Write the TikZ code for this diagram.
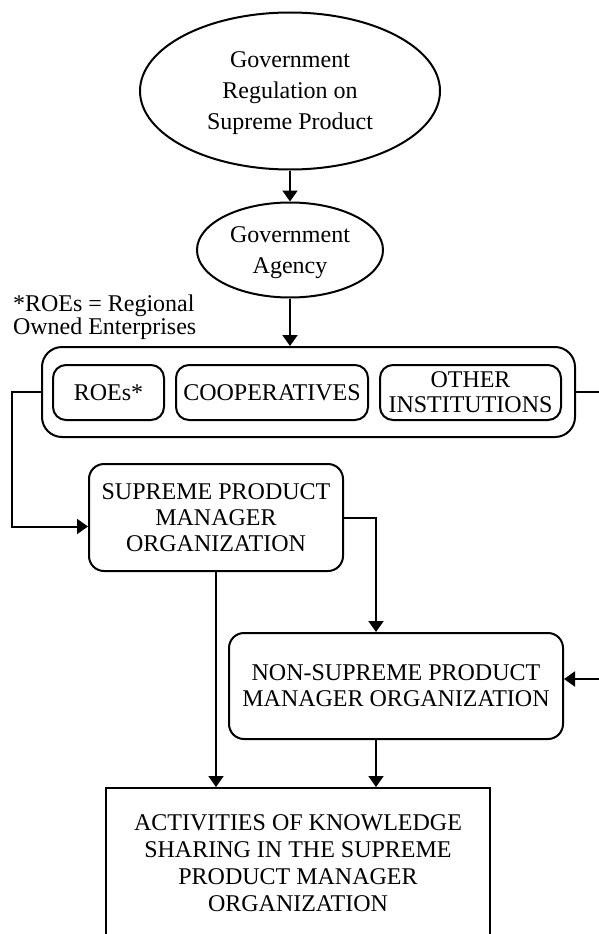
\documentclass[tikz,border=0pt]{standalone}
\usepackage{fontspec}
\setmainfont{Liberation Serif}
\usetikzlibrary{shapes.geometric,arrows.meta}

\begin{document}
\begin{tikzpicture}[
  x=1pt, y=-1pt,
  >={Triangle[length=11pt,width=15pt]},
  line width=2pt,
  oval/.style={draw,ellipse,align=center,inner sep=0pt,text depth=0pt,font=\fontsize{24}{31}\selectfont},
  box/.style={draw,rounded corners=15pt,align=center,inner sep=0pt,text depth=0pt,font=\fontsize{24}{26}\selectfont},
  unit/.style={draw,rounded corners=13pt,align=center,inner sep=0pt,minimum height=55pt,font=\fontsize{24}{25}\selectfont},
  arrow/.style={->}
]
\useasboundingbox (0,0) rectangle (598,934);
\coordinate (edge) at (600,0);

% regulation and agency
\node[oval,minimum width=300pt,minimum height=157pt] (reg) at (290,91) {Government\\Regulation on\\Supreme Product};
\node[oval,minimum width=186pt,minimum height=95pt] (agency) at (290,250) {Government\\Agency};
\node[align=left,anchor=north west,inner sep=0pt,font=\fontsize{24}{21}\selectfont] (note) at (12,294) {*ROEs = Regional\\Owned Enterprises};

% the three kinds of institutions
\node[draw,rounded corners=20pt,minimum width=533pt,minimum height=90pt] (group) at (308.5,392) {};
\node[unit,minimum width=111pt] (roes) at (108.5,392.5) {ROEs*};
\node[unit,minimum width=192pt] (coop) at (272,392.5) {COOPERATIVES};
\node[unit,minimum width=181pt] (other) at (470.5,392.5) {OTHER\\INSTITUTIONS};

% managers
\node[box,minimum width=254pt,minimum height=107pt] (spm) at (216,517.5) {SUPREME PRODUCT\\MANAGER\\ORGANIZATION};
\node[box,minimum width=334pt,minimum height=106pt] (nspm) at (396,686) {NON-SUPREME PRODUCT\\MANAGER ORGANIZATION};
\node[draw,align=center,anchor=north,inner xsep=0pt,inner ysep=27pt,text depth=60pt,minimum width=384pt,
  font=\fontsize{24}{26.7}\selectfont] (act) at (298,787) {ACTIVITIES OF KNOWLEDGE\\SHARING IN THE SUPREME\\PRODUCT MANAGER\\ORGANIZATION};

\draw[arrow] (reg) -- (agency);
\draw[arrow] (agency.south) -- (agency.south |- group.north);
\draw[arrow] (group.west) -- ++(-29,0) |- ([yshift=-9pt]spm.west);
\draw[arrow] (group.east) -- (group.east -| edge) |- ([yshift=7pt]nspm.east);
\draw[arrow] (spm.east) -| ([xshift=-20pt]nspm.north);
\draw[arrow] (spm.south) -- (spm.south |- act.north);
\draw[arrow] ([xshift=-20pt]nspm.south) -- ([xshift=-20pt]nspm.south |- act.north);
\end{tikzpicture}
\end{document}
